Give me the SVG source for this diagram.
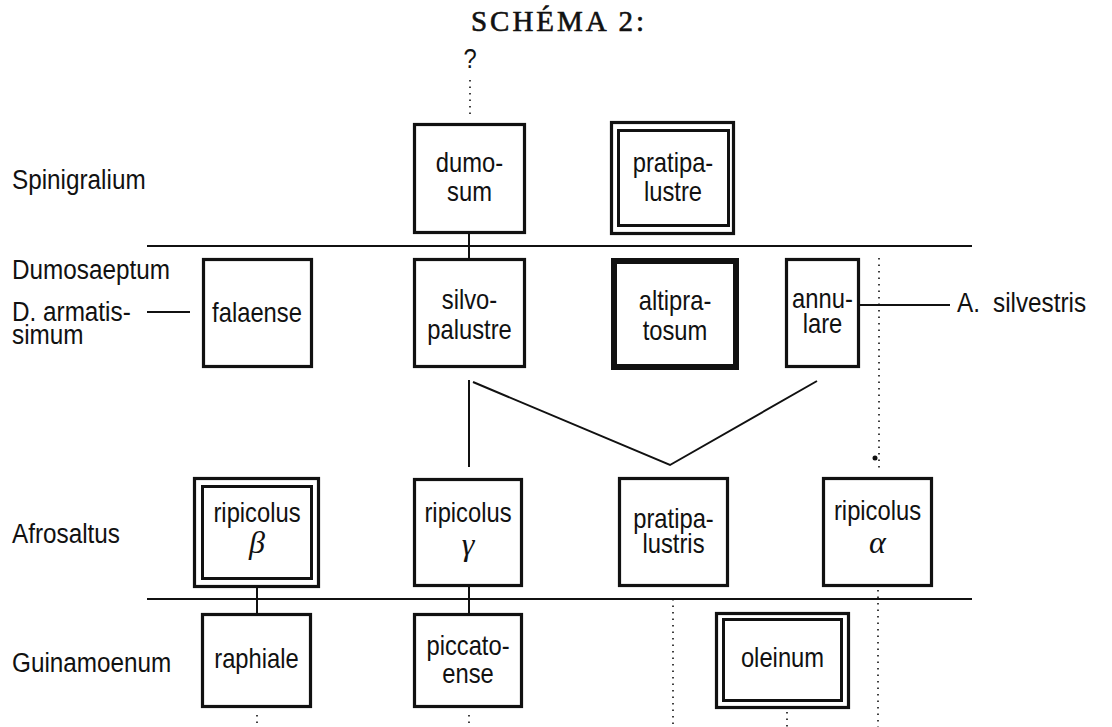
<svg xmlns="http://www.w3.org/2000/svg" width="1112" height="727" viewBox="0 0 1112 727">
<style>
.t{font-family:"Liberation Sans",Arial,sans-serif;font-size:27px;fill:#111}
.c{text-anchor:middle}
.g{font-family:"Liberation Serif",serif;font-style:italic;font-size:32px;fill:#111;text-anchor:middle}
.b{fill:#fff;stroke:#111;stroke-width:3.2}
.bk{fill:#fff;stroke:#111;stroke-width:6}
.in{fill:none;stroke:#111;stroke-width:3}
.l{stroke:#111;stroke-width:2;fill:none}
.d{stroke:#111;stroke-width:1.6;fill:none;stroke-dasharray:1.5 5}
</style>
<rect width="1112" height="727" fill="#fff"/>
<text x="559" y="31" font-family="Liberation Serif,serif" font-size="29" letter-spacing="3" text-anchor="middle" fill="#111" stroke="#111" stroke-width="0.6">SCHÉMA 2:</text>
<text class="t c" transform="translate(470 68) scale(0.88 1)" font-size="24">?</text>
<g id="labels">
<text class="t" transform="translate(12 189) scale(0.9 1)">Spinigralium</text>
<text class="t" transform="translate(12 279) scale(0.9 1)">Dumosaeptum</text>
<text class="t" transform="translate(12 321) scale(0.9 1)">D. armatis-</text>
<text class="t" transform="translate(12 344) scale(0.9 1)">simum</text>
<text class="t" transform="translate(957 312) scale(0.9 1)" word-spacing="7">A. silvestris</text>
<text class="t" transform="translate(12 543) scale(0.9 1)">Afrosaltus</text>
<text class="t" transform="translate(12 672) scale(0.9 1)">Guinamoenum</text>
</g>
<g id="connectors">
<line class="l" x1="147" y1="246" x2="972" y2="246"/>
<line class="l" x1="147" y1="599" x2="972" y2="599"/>
<line class="l" x1="469" y1="234" x2="469" y2="258"/>
<line class="l" x1="147" y1="312" x2="190" y2="312"/>
<line class="l" x1="860" y1="305" x2="950" y2="305"/>
<line class="l" x1="469" y1="380" x2="469" y2="467"/>
<polyline class="l" points="473,382 670,465 817,381"/>
<line class="l" x1="257" y1="588" x2="257" y2="613"/>
<line class="l" x1="469" y1="587" x2="469" y2="613"/>
<line class="d" x1="470" y1="80" x2="470" y2="114"/>
<line class="d" x1="879" y1="258" x2="879" y2="468"/>
<circle cx="875" cy="458" r="2.5" fill="#111"/>
<line class="d" x1="878" y1="590" x2="878" y2="727"/>
<line class="d" x1="673" y1="599" x2="673" y2="727"/>
<line class="d" x1="257" y1="715" x2="257" y2="727"/>
<line class="d" x1="469" y1="715" x2="469" y2="727"/>
<line class="d" x1="787" y1="712" x2="787" y2="727"/>
</g>
<g id="dumosum"><rect class="b" x="414.5" y="124.5" width="110" height="108"/><text class="t c" transform="translate(469.5 172) scale(0.88 1)">dumo-</text><text class="t c" transform="translate(469.5 201) scale(0.88 1)">sum</text></g>
<g id="pratipalustre"><rect class="b" x="611.5" y="122.5" width="122" height="111"/><rect class="in" x="618.5" y="130.5" width="110" height="95"/><text class="t c" transform="translate(673 172) scale(0.88 1)">pratipa-</text><text class="t c" transform="translate(673 201) scale(0.88 1)">lustre</text></g>
<g id="falaense"><rect class="b" x="203.5" y="259.5" width="108" height="107"/><text class="t c" transform="translate(257 322) scale(0.88 1)">falaense</text></g>
<g id="silvopalustre"><rect class="b" x="414.5" y="259.5" width="110" height="107"/><text class="t c" transform="translate(469.5 309) scale(0.88 1)">silvo-</text><text class="t c" transform="translate(469.5 339) scale(0.88 1)">palustre</text></g>
<g id="altipratosum"><rect class="bk" x="614" y="261" width="122" height="106"/><text class="t c" transform="translate(675 310) scale(0.88 1)">altipra-</text><text class="t c" transform="translate(675 340) scale(0.88 1)">tosum</text></g>
<g id="annulare"><rect class="b" x="786.5" y="259.5" width="72" height="107"/><text class="t c" transform="translate(822.5 308) scale(0.88 1)">annu-</text><text class="t c" transform="translate(822.5 333) scale(0.88 1)">lare</text></g>
<g id="ripicolus-beta"><rect class="b" x="194.5" y="478.5" width="124" height="108"/><rect class="in" x="202.5" y="486.5" width="109" height="92"/><text class="t c" transform="translate(257 522) scale(0.88 1)">ripicolus</text><text class="g" x="257" y="553">β</text></g>
<g id="ripicolus-gamma"><rect class="b" x="414.5" y="479.5" width="107" height="106"/><text class="t c" transform="translate(468 522) scale(0.88 1)">ripicolus</text><text class="g" x="468" y="555">γ</text></g>
<g id="pratipalustris"><rect class="b" x="619.5" y="478.5" width="108" height="107"/><text class="t c" transform="translate(673.5 528) scale(0.88 1)">pratipa-</text><text class="t c" transform="translate(673.5 553) scale(0.88 1)">lustris</text></g>
<g id="ripicolus-alpha"><rect class="b" x="823.5" y="478.5" width="108" height="107"/><text class="t c" transform="translate(877.5 520) scale(0.88 1)">ripicolus</text><text class="g" x="877.5" y="553">α</text></g>
<g id="raphiale"><rect class="b" x="202.5" y="614.5" width="108" height="92"/><text class="t c" transform="translate(256.5 668) scale(0.88 1)">raphiale</text></g>
<g id="piccatoense"><rect class="b" x="414.5" y="614.5" width="107" height="92"/><text class="t c" transform="translate(468 655) scale(0.88 1)">piccato-</text><text class="t c" transform="translate(468 683) scale(0.88 1)">ense</text></g>
<g id="oleinum"><rect class="b" x="716.5" y="613.5" width="132" height="94"/><rect class="in" x="723.5" y="619.5" width="118" height="81"/><text class="t c" transform="translate(782.5 667) scale(0.88 1)">oleinum</text></g>
</svg>
